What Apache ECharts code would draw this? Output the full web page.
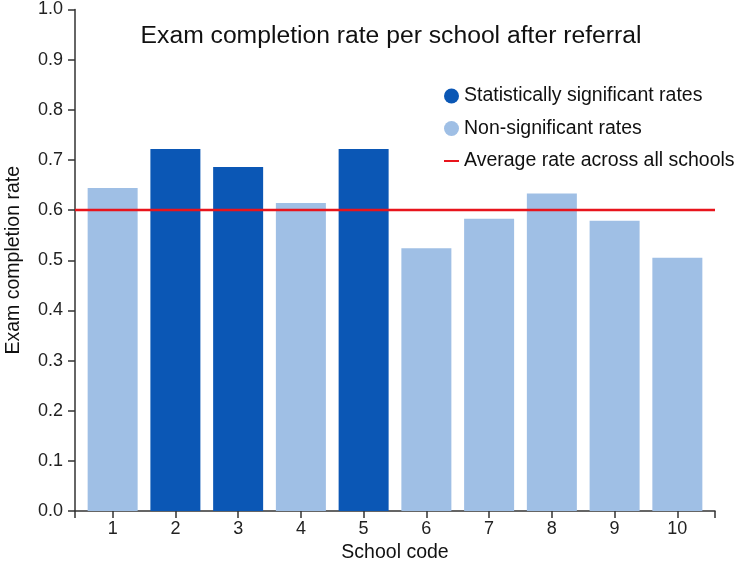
<!DOCTYPE html>
<html>
<head>
<meta charset="utf-8">
<script src="https://cdn.jsdelivr.net/npm/echarts@6/dist/echarts.min.js"></script>
<style>html,body{margin:0;padding:0;background:#fff}#c{width:745px;height:563px}</style>
</head>
<body>
<div id="c"></div>
<script>
var schools = [1, 2, 3, 4, 5, 6, 7, 8, 9, 10];
var rates = [0.644, 0.722, 0.686, 0.614, 0.722, 0.524, 0.583, 0.633, 0.579, 0.505];
var significant = [false, true, true, false, true, false, false, false, false, false];
var averageRate = 0.6;

var sigData = [], nonSigData = [];
schools.forEach(function (s, i) {
  if (significant[i]) sigData.push([s, rates[i]]); else nonSigData.push([s, rates[i]]);
});
var xMin = 0.4, xMax = 10.6;
var font = '"Liberation Sans", Arial, sans-serif';
var axisColor = '#333';

var chart = echarts.init(document.getElementById('c'), null, {renderer: 'canvas'});
chart.setOption({
  animation: false,
  title: {
    text: 'Exam completion rate per school after referral',
    left: 386, top: 19, textAlign: 'center',
    textStyle: {fontFamily: font, fontSize: 24.7, fontWeight: 'normal', color: '#111'}
  },
  legend: {
    orient: 'vertical', left: 438, top: 81,
    itemWidth: 15, itemHeight: 15, itemGap: 12.5,
    textStyle: {fontFamily: font, fontSize: 19.5, color: '#111'},
    data: [
      {name: 'Statistically significant rates', icon: 'circle'},
      {name: 'Non-significant rates', icon: 'circle'},
      {name: 'Average rate across all schools', itemStyle: {color: 'rgba(0,0,0,0)', borderWidth: 0}}
    ]
  },
  grid: {left: 75, right: 30, top: 9.5, bottom: 52, containLabel: false, outerBoundsMode: 'none'},
  xAxis: {
    type: 'value', min: xMin, max: xMax,
    name: 'School code', nameLocation: 'middle', nameGap: 32,
    nameTextStyle: {fontFamily: font, fontSize: 19.5, color: '#111'},
    splitLine: {show: false},
    axisLine: {show: true, lineStyle: {color: axisColor, width: 1.5}},
    axisTick: {show: true, length: 7, lineStyle: {color: axisColor, width: 1.5},
      customValues: [xMin].concat(schools).concat([xMax])},
    axisLabel: {fontFamily: font, fontSize: 18, color: '#222', margin: 9,
      customValues: schools}
  },
  yAxis: {
    type: 'value', min: 0, max: 1, interval: 0.1,
    name: 'Exam completion rate', nameLocation: 'middle', nameGap: 51, nameRotate: 90,
    nameTextStyle: {fontFamily: font, fontSize: 19.5, color: '#111'},
    splitLine: {show: false},
    axisLine: {show: true, lineStyle: {color: axisColor, width: 1.5}},
    axisTick: {show: true, length: 7, lineStyle: {color: axisColor, width: 1.5}},
    axisLabel: {fontFamily: font, fontSize: 18, color: '#222', margin: 12,
      formatter: function (v) { return v.toFixed(1); }}
  },
  series: [
    {
      name: 'Statistically significant rates', type: 'bar', barWidth: 50, barGap: '-100%',
      itemStyle: {color: '#0b57b5'}, data: sigData, z: 2
    },
    {
      name: 'Non-significant rates', type: 'bar', barWidth: 50, barGap: '-100%',
      itemStyle: {color: '#9fbfe5'}, data: nonSigData, z: 2
    },
    {
      name: 'Average rate across all schools', type: 'line', symbol: 'none',
      lineStyle: {color: '#e8141c', width: 2.5}, itemStyle: {color: '#e8141c'},
      data: [[xMin, averageRate], [xMax, averageRate]], z: 3
    }
  ]
});
</script>
</body>
</html>
